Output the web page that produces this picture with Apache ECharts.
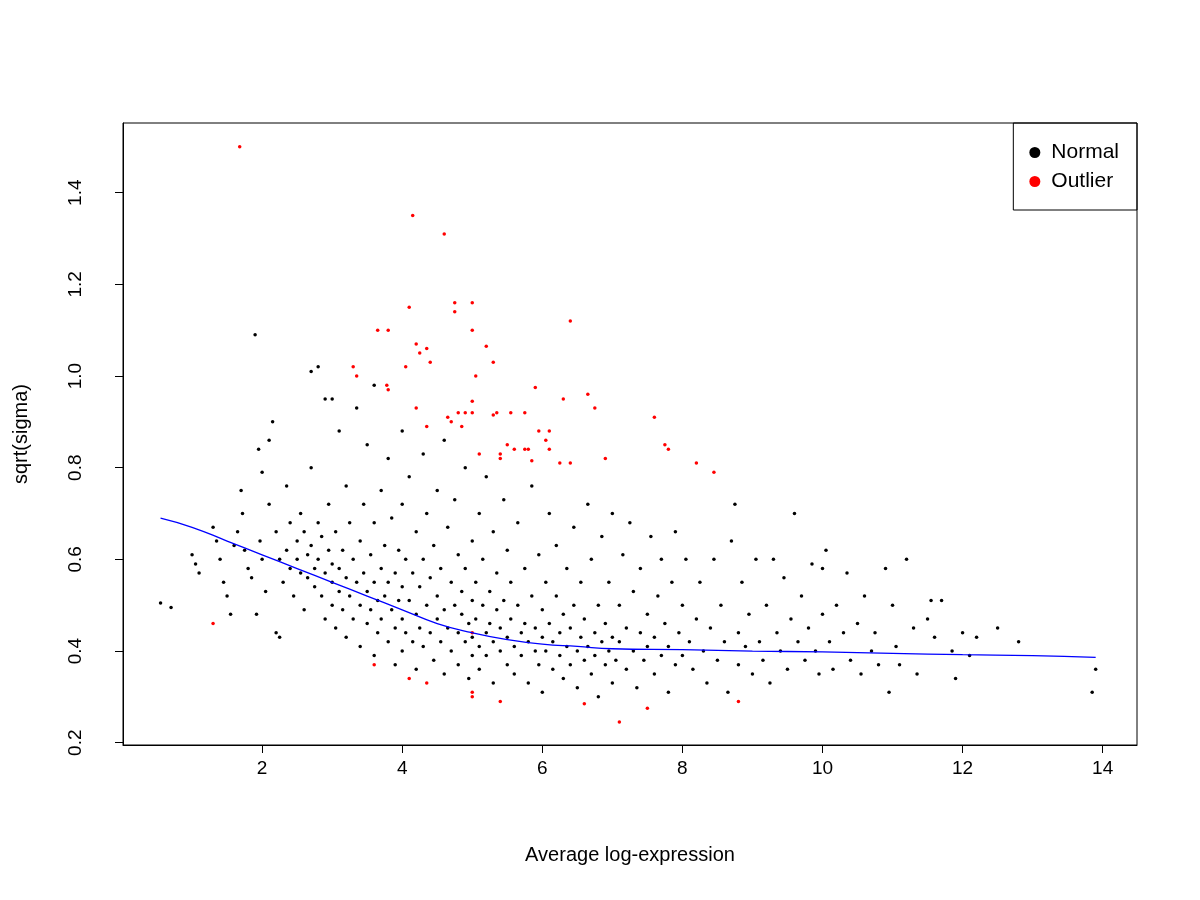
<!DOCTYPE html>
<html><head><meta charset="utf-8">
<script src="https://cdn.jsdelivr.net/npm/echarts@6/dist/echarts.min.js"></script>
<style>html,body{margin:0;background:#fff}#main{width:1200px;height:900px}</style>
</head><body><div id="main"></div>
<script>
var normalPts = [
[0.55,0.505],[0.7,0.495],[1.0,0.61],[1.05,0.59],[1.1,0.57],[1.3,0.67],[1.35,0.64],[1.4,0.6],[1.45,0.55],[1.5,0.52],[1.55,0.48],[1.6,0.63],[1.65,0.66],[1.7,0.75],[1.72,0.7],[1.75,0.62],[1.8,0.58],[1.85,0.56],[1.9,1.09],[1.92,0.48],[1.95,0.84],[1.97,0.64],[2.0,0.79],[2.0,0.6],[2.05,0.53],
[2.1,0.86],[2.15,0.9],[2.1,0.72],[2.2,0.44],[2.25,0.43],[2.2,0.66],[2.25,0.6],[2.3,0.55],[2.35,0.62],[2.35,0.76],[2.4,0.58],[2.4,0.68],[2.45,0.52],[2.5,0.64],[2.5,0.6],[2.55,0.57],[2.55,0.7],[2.6,0.49],[2.6,0.66],[2.65,0.61],[2.65,0.56],[2.7,1.01],[2.7,0.8],[2.7,0.63],[2.75,0.58],[2.75,0.54],[2.8,1.02],[2.8,0.68],[2.8,0.6],[2.85,0.52],[2.85,0.65],[2.9,0.95],[2.9,0.57],[2.9,0.47],[2.95,0.72],[2.95,0.62],[3.0,0.95],[3.0,0.55],[3.0,0.5],[3.0,0.59],
[3.05,0.66],[3.05,0.45],[3.1,0.88],[3.1,0.58],[3.1,0.53],[3.15,0.62],[3.15,0.49],[3.2,0.76],[3.2,0.56],[3.2,0.43],[3.25,0.68],[3.25,0.52],[3.3,0.6],[3.3,0.47],[3.35,0.93],[3.35,0.55],[3.4,0.64],[3.4,0.5],[3.4,0.41],[3.45,0.72],[3.45,0.57],[3.5,0.85],[3.5,0.53],[3.5,0.46],[3.55,0.61],[3.55,0.49],[3.6,0.98],[3.6,0.68],[3.6,0.55],[3.6,0.39],[3.65,0.51],[3.65,0.44],[3.7,0.75],[3.7,0.58],[3.7,0.47],[3.75,0.63],[3.75,0.52],[3.8,0.82],[3.8,0.55],[3.8,0.42],[3.85,0.49],[3.85,0.69],[3.9,0.57],[3.9,0.45],[3.9,0.37],[3.95,0.62],[3.95,0.51],[4.0,0.88],[4.0,0.72],[4.0,0.54],[4.0,0.47],[4.0,0.4],
[4.05,0.6],[4.05,0.44],[4.1,0.78],[4.1,0.51],[4.15,0.57],[4.15,0.42],[4.2,0.66],[4.2,0.48],[4.2,0.36],[4.25,0.54],[4.25,0.45],[4.3,0.83],[4.3,0.6],[4.3,0.41],[4.35,0.5],[4.35,0.7],[4.4,0.56],[4.4,0.44],[4.45,0.38],[4.45,0.63],[4.5,0.75],[4.5,0.52],[4.5,0.47],[4.55,0.42],[4.55,0.58],[4.6,0.86],[4.6,0.49],[4.6,0.35],[4.65,0.45],[4.65,0.67],[4.7,0.55],[4.7,0.4],[4.75,0.5],[4.75,0.73],[4.8,0.44],[4.8,0.61],[4.8,0.37],[4.85,0.48],[4.85,0.53],[4.9,0.42],[4.9,0.8],[4.9,0.58],[4.95,0.46],[4.95,0.34],[5.0,0.64],[5.0,0.51],[5.0,0.43],[5.0,0.39],
[5.05,0.55],[5.05,0.47],[5.1,0.7],[5.1,0.41],[5.1,0.36],[5.15,0.5],[5.15,0.6],[5.2,0.44],[5.2,0.78],[5.2,0.39],[5.25,0.53],[5.25,0.46],[5.3,0.66],[5.3,0.42],[5.3,0.33],[5.35,0.49],[5.35,0.57],[5.4,0.4],[5.4,0.45],[5.45,0.73],[5.45,0.51],[5.5,0.37],[5.5,0.43],[5.5,0.62],[5.55,0.47],[5.55,0.55],[5.6,0.41],[5.6,0.35],[5.65,0.5],[5.65,0.68],[5.7,0.44],[5.7,0.39],[5.75,0.58],[5.75,0.46],[5.8,0.42],[5.8,0.33],[5.85,0.52],[5.85,0.76],[5.9,0.4],[5.9,0.45],[5.95,0.61],[5.95,0.37],[6.0,0.49],[6.0,0.43],[6.0,0.31],
[6.05,0.55],[6.05,0.4],[6.1,0.7],[6.1,0.46],[6.15,0.36],[6.15,0.42],[6.2,0.52],[6.2,0.63],[6.25,0.39],[6.25,0.44],[6.3,0.34],[6.3,0.48],[6.35,0.58],[6.35,0.41],[6.4,0.37],[6.4,0.45],[6.45,0.67],[6.45,0.5],[6.5,0.4],[6.5,0.32],[6.55,0.43],[6.55,0.55],[6.6,0.38],[6.6,0.47],[6.65,0.72],[6.65,0.41],[6.7,0.35],[6.7,0.6],[6.75,0.44],[6.75,0.39],[6.8,0.5],[6.8,0.3],[6.85,0.42],[6.85,0.65],[6.9,0.37],[6.9,0.46],[6.95,0.55],[6.95,0.4],[7.0,0.33],[7.0,0.7],[7.0,0.43],
[7.05,0.38],[7.1,0.5],[7.1,0.42],[7.15,0.61],[7.2,0.36],[7.2,0.45],[7.25,0.68],[7.3,0.4],[7.3,0.53],[7.35,0.32],[7.4,0.44],[7.4,0.58],[7.45,0.38],[7.5,0.48],[7.5,0.41],[7.55,0.65],[7.6,0.35],[7.6,0.43],[7.65,0.52],[7.7,0.39],[7.7,0.6],[7.75,0.46],[7.8,0.31],[7.8,0.41],[7.85,0.55],[7.9,0.37],[7.9,0.66],[7.95,0.44],[8.0,0.5],[8.0,0.39],
[8.05,0.6],[8.1,0.42],[8.15,0.36],[8.2,0.47],[8.25,0.55],[8.3,0.4],[8.35,0.33],[8.4,0.45],[8.45,0.6],[8.5,0.38],[8.55,0.5],[8.6,0.42],[8.65,0.31],[8.7,0.64],[8.75,0.72],[8.8,0.44],[8.8,0.37],[8.85,0.55],[8.9,0.41],[8.95,0.48],[9.0,0.35],[9.05,0.6],[9.1,0.42],[9.15,0.38],[9.2,0.5],[9.25,0.33],[9.3,0.6],[9.35,0.44],[9.4,0.4],[9.45,0.56],[9.5,0.36],[9.55,0.47],[9.6,0.7],[9.65,0.42],[9.7,0.52],[9.75,0.38],[9.8,0.45],[9.85,0.59],[9.9,0.4],[9.95,0.35],[10.0,0.48],[10.0,0.58],
[10.05,0.62],[10.1,0.42],[10.15,0.36],[10.2,0.5],[10.3,0.44],[10.35,0.57],[10.4,0.38],[10.5,0.46],[10.55,0.35],[10.6,0.52],[10.7,0.4],[10.75,0.44],[10.8,0.37],[10.9,0.58],[10.95,0.31],[11.0,0.5],[11.05,0.41],[11.1,0.37],[11.2,0.6],[11.3,0.45],[11.35,0.35],[11.5,0.47],[11.6,0.43],[11.7,0.51],[11.85,0.4],[11.9,0.34],[12.0,0.44],[12.2,0.43],[12.5,0.45],[12.8,0.42],[13.9,0.36],[13.85,0.31],[11.55,0.51],[12.1,0.39]
];
var outlierPts = [
[1.68,1.50],[1.3,0.46],[4.15,1.35],[4.6,1.31],[3.3,1.02],[3.35,1.0],[3.65,1.1],[3.8,1.1],[3.78,0.98],[3.8,0.97],[4.05,1.02],[4.2,1.07],[4.25,1.05],[4.35,1.06],[4.4,1.03],[4.1,1.15],[4.2,0.93],[4.75,1.16],[4.75,1.14],[5.0,1.16],[5.0,1.1],[5.2,1.065],[5.3,1.03],[5.05,1.0],[4.35,0.89],[4.7,0.9],[4.8,0.92],[4.85,0.89],[4.9,0.92],[5.0,0.945],[5.0,0.92],[4.65,0.91],[5.3,0.915],[5.35,0.92],[5.1,0.83],[5.4,0.83],[5.4,0.82],[5.5,0.85],[5.6,0.84],[5.75,0.84],[5.85,0.815],[5.8,0.84],[5.9,0.975],[5.95,0.88],[6.1,0.88],[6.05,0.86],[6.1,0.84],[6.3,0.95],[6.4,1.12],[6.4,0.81],[6.25,0.81],[5.55,0.92],[5.75,0.92],[6.65,0.96],[6.75,0.93],[6.9,0.82],[7.6,0.91],[7.75,0.85],[7.8,0.84],[8.2,0.81],[8.45,0.79],[3.6,0.37],[4.1,0.34],[4.35,0.33],[5.0,0.31],[5.0,0.3],[5.4,0.29],[6.6,0.285],[7.1,0.245],[7.5,0.275],[8.8,0.29],[5.0,0.44]
];
var trendPts = [
[0.55,0.69],[1,0.67],[1.5,0.64],[2,0.61],[2.5,0.58],[3,0.55],[3.5,0.52],[4,0.49],[4.5,0.46],[5,0.44],[5.5,0.425],[6,0.415],[6.5,0.41],[7,0.405],[8,0.403],[9,0.4],[10,0.398],[11,0.395],[12,0.392],[13,0.39],[13.9,0.386]
];
var xTicks = [2,4,6,8,10,12,14];
var yTicks = [0.2,0.4,0.6,0.8,1.0,1.2,1.4];

var chart = echarts.init(document.getElementById('main'));
var font = 'Liberation Sans';
chart.setOption({
  animation: false,
  textStyle: {fontFamily: font},
  grid: {left: 123, right: 63, top: 123, bottom: 155, show: true, borderColor: '#000', borderWidth: 1},
  legend: {
    orient: 'vertical', right: 63, top: 123,
    borderColor: '#000', borderWidth: 1, borderRadius: 0,
    padding: [19, 18, 18, 16], itemGap: 8, itemWidth: 11, itemHeight: 11,
    textStyle: {fontSize: 21, color: '#000', fontFamily: font, padding: [0, 0, 0, 6]},
    data: [
      {name: 'Normal', icon: 'circle', itemStyle: {color: '#000', opacity: 1}},
      {name: 'Outlier', icon: 'circle', itemStyle: {color: '#ff0000', opacity: 1}}
    ]
  },
  xAxis: {
    type: 'value', min: 0.014, max: 14.49,
    name: 'Average log-expression', nameLocation: 'middle', nameGap: 100,
    nameTextStyle: {fontSize: 20, color: '#000'},
    splitLine: {show: false},
    axisLine: {show: true, lineStyle: {color: '#000'}},
    axisTick: {show: true, length: 8, customValues: xTicks, lineStyle: {color: '#000'}},
    axisLabel: {customValues: xTicks, fontSize: 19, color: '#000', margin: 14}
  },
  yAxis: {
    type: 'value', min: 0.195, max: 1.552,
    name: 'sqrt(sigma)', nameLocation: 'middle', nameGap: 92,
    nameTextStyle: {fontSize: 20, color: '#000'},
    splitLine: {show: false},
    axisLine: {show: true, lineStyle: {color: '#000'}},
    axisTick: {show: true, length: 8, customValues: yTicks, lineStyle: {color: '#000'}},
    axisLabel: {customValues: yTicks, fontSize: 19, color: '#000', rotate: 90, margin: 38,
      formatter: function (v) { return v.toFixed(1); }}
  },
  series: [
    {name: 'Normal', type: 'scatter', data: normalPts, symbolSize: 3.5, itemStyle: {color: '#000', opacity: 1}},
    {name: 'Outlier', type: 'scatter', data: outlierPts, symbolSize: 3.5, itemStyle: {color: '#ff0000', opacity: 1}},
    {name: 'trend', type: 'line', data: trendPts, showSymbol: false, smooth: true,
      lineStyle: {color: '#0000ff', width: 1.3}, itemStyle: {color: '#0000ff'}}
  ]
});
</script></body></html>
